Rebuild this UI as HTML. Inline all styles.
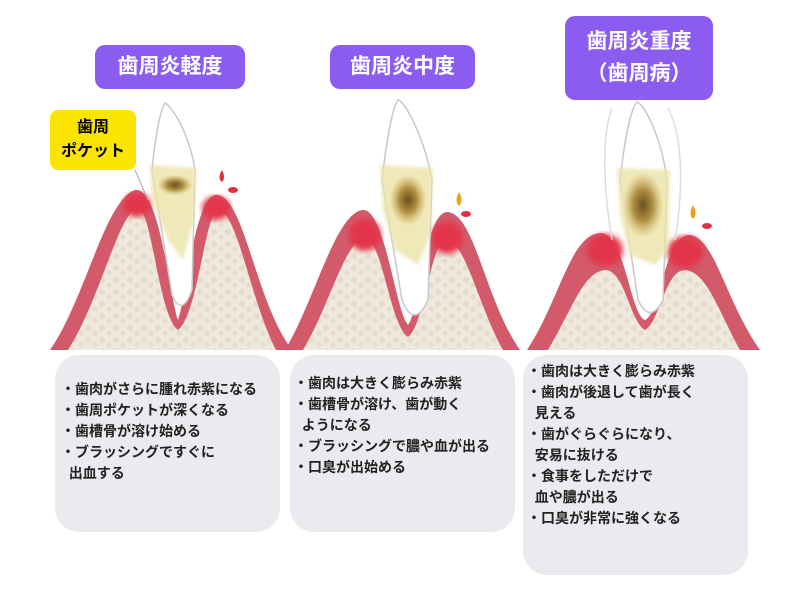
<!DOCTYPE html>
<html><head><meta charset="utf-8"><style>
body{margin:0;background:#fff;width:800px;height:600px;overflow:hidden;position:relative;font-family:"Liberation Sans","Noto Sans CJK JP",sans-serif}
.t{position:absolute;background:#8a5cf0;color:#fff;font-weight:bold;font-size:21px;border-radius:10px;text-align:center;line-height:28px}
.b{position:absolute;background:#e9ebee;border-radius:24px;font-size:14px;font-weight:bold;color:#222;line-height:21px}
.b div{white-space:nowrap}
</style></head><body>
<svg width="800" height="600" style="position:absolute;left:0;top:0">
<defs>
<radialGradient id="sg"><stop offset="0" stop-color="#6a5020"/><stop offset=".5" stop-color="#b09040"/><stop offset="1" stop-color="#ece3a8" stop-opacity=".6"/></radialGradient>
<filter id="bl"><feGaussianBlur stdDeviation="3"/></filter>
<filter id="bl2"><feGaussianBlur stdDeviation="1.5"/></filter>
<pattern id="bone" width="14" height="12" patternUnits="userSpaceOnUse"><rect width="14" height="12" fill="#efe9dd"/><circle cx="4" cy="4" r="3" fill="#e4dccb"/><circle cx="11" cy="9" r="2.5" fill="#e4dccb"/></pattern>
</defs>
<!-- panel 1 -->
<g>
<path d="M50,350 C85,300 105,200 135,190 C160,185 170,300 178,320 C186,300 195,190 218,195 C245,200 255,300 292,350Z" fill="#d35a6a"/>
<path d="M68,350 C100,300 118,215 137,208 C152,206 158,315 178,330 C198,315 205,212 218,210 C238,212 250,300 276,350Z" fill="url(#bone)"/>
<ellipse cx="137" cy="205" rx="14" ry="12" fill="#e23548" filter="url(#bl)"/><ellipse cx="216" cy="208" rx="14" ry="12" fill="#e23548" filter="url(#bl)"/>
<path d="M165,103 C172,106 190,135 195,170 L192,290 Q182,318 172,295 L152,170 C155,140 160,110 165,103Z" fill="#fff" stroke="#c8c8cc" stroke-width="1.5"/>
<path d="M150,165 L196,168 L194,220 L183,260 L168,240 L152,200Z" fill="#ece3a8" opacity=".8" filter="url(#bl2)"/>
<ellipse cx="175" cy="185" rx="17" ry="10" fill="url(#sg)"/>
<path d="M222,170 q4,8 0,12 q-5,-4 0,-12Z" fill="#e0303f"/><ellipse cx="233" cy="190" rx="5" ry="3" fill="#e0303f"/>
<line x1="135" y1="170" x2="148" y2="200" stroke="#aaa" stroke-width="1"/>
</g>
<!-- panel 2 -->
<g>
<path d="M285,350 C315,300 335,215 362,210 C385,207 395,310 408,325 C420,310 425,210 448,212 C475,215 485,300 520,350Z" fill="#d35a6a"/>
<path d="M303,350 C330,305 345,240 365,238 C382,238 390,325 408,337 C425,325 430,240 447,240 C466,243 478,305 503,350Z" fill="url(#bone)"/>
<ellipse cx="365" cy="235" rx="16" ry="16" fill="#e23548" filter="url(#bl)"/><ellipse cx="447" cy="238" rx="16" ry="16" fill="#e23548" filter="url(#bl)"/>
<path d="M398,100 C406,102 425,140 432,180 L428,300 Q414,330 402,300 L382,180 C386,145 392,108 398,100Z" fill="#fff" stroke="#c8c8cc" stroke-width="1.5"/>
<path d="M380,165 L433,168 L430,235 L418,265 L395,250 L383,210Z" fill="#ece3a8" opacity=".8" filter="url(#bl2)"/>
<ellipse cx="408" cy="200" rx="18" ry="25" fill="url(#sg)"/>
<path d="M459,192 q5,9 0,14 q-5,-5 0,-14Z" fill="#e8a020"/><ellipse cx="466" cy="214" rx="5" ry="3" fill="#e0303f"/>
</g>
<!-- panel 3 -->
<g>
<path d="M527,350 C560,300 570,235 600,233 C625,232 630,315 645,320 C660,315 665,233 690,235 C715,238 725,300 760,350Z" fill="#d35a6a"/>
<path d="M548,350 C572,310 583,272 605,270 C625,270 630,322 645,330 C660,322 665,270 685,270 C707,272 718,310 740,350Z" fill="url(#bone)"/>
<ellipse cx="605" cy="250" rx="18" ry="16" fill="#e23548" filter="url(#bl)"/><ellipse cx="685" cy="252" rx="18" ry="16" fill="#e23548" filter="url(#bl)"/>
<path d="M612,108 C600,140 605,200 612,240 M668,108 C685,140 682,200 675,240" fill="none" stroke="#ddd" stroke-width="1.5"/>
<path d="M637,102 C645,104 662,140 667,180 L663,300 Q650,325 638,300 L620,180 C624,145 630,110 637,102Z" fill="#fff" stroke="#c8c8cc" stroke-width="1.5"/>
<path d="M617,168 L670,170 L668,250 L655,265 L630,255 L620,215Z" fill="#ece3a8" opacity=".8" filter="url(#bl2)"/>
<ellipse cx="643" cy="205" rx="20" ry="32" fill="url(#sg)"/>
<path d="M693,205 q5,9 0,14 q-5,-5 0,-14Z" fill="#e8a020"/><ellipse cx="707" cy="226" rx="5" ry="3" fill="#e0303f"/>
</g>
</svg>
<div class="t" style="left:95px;top:45px;width:150px;height:44px;line-height:44px">歯周炎軽度</div>
<div class="t" style="left:330px;top:45px;width:145px;height:44px;line-height:44px">歯周炎中度</div>
<div class="t" style="left:565px;top:16px;width:148px;height:84px;padding-top:10px;box-sizing:border-box;line-height:32px">歯周炎重度<br>（歯周病）</div>
<div style="position:absolute;left:50px;top:110px;width:86px;height:60px;background:#fbe500;border-radius:8px;font-weight:bold;font-size:16px;text-align:center;line-height:24px;padding-top:6px;box-sizing:border-box">歯周<br>ポケット</div>
<div class="b" style="left:55px;top:355px;width:225px;height:177px;padding:24px 0 0 6px;box-sizing:border-box">
<div>・歯肉がさらに腫れ赤紫になる</div><div>・歯周ポケットが深くなる</div><div>・歯槽骨が溶け始める</div><div>・ブラッシングですぐに</div><div>&nbsp;&nbsp;出血する</div></div>
<div class="b" style="left:290px;top:355px;width:225px;height:177px;padding:18px 0 0 4px;box-sizing:border-box">
<div>・歯肉は大きく膨らみ赤紫</div><div>・歯槽骨が溶け、歯が動く</div><div>&nbsp;&nbsp;ようになる</div><div>・ブラッシングで膿や血が出る</div><div>・口臭が出始める</div></div>
<div class="b" style="left:523px;top:355px;width:225px;height:220px;padding:6px 0 0 4px;box-sizing:border-box">
<div>・歯肉は大きく膨らみ赤紫</div><div>・歯肉が後退して歯が長く</div><div>&nbsp;&nbsp;見える</div><div>・歯がぐらぐらになり、</div><div>&nbsp;&nbsp;安易に抜ける</div><div>・食事をしただけで</div><div>&nbsp;&nbsp;血や膿が出る</div><div>・口臭が非常に強くなる</div></div>
</body></html>
